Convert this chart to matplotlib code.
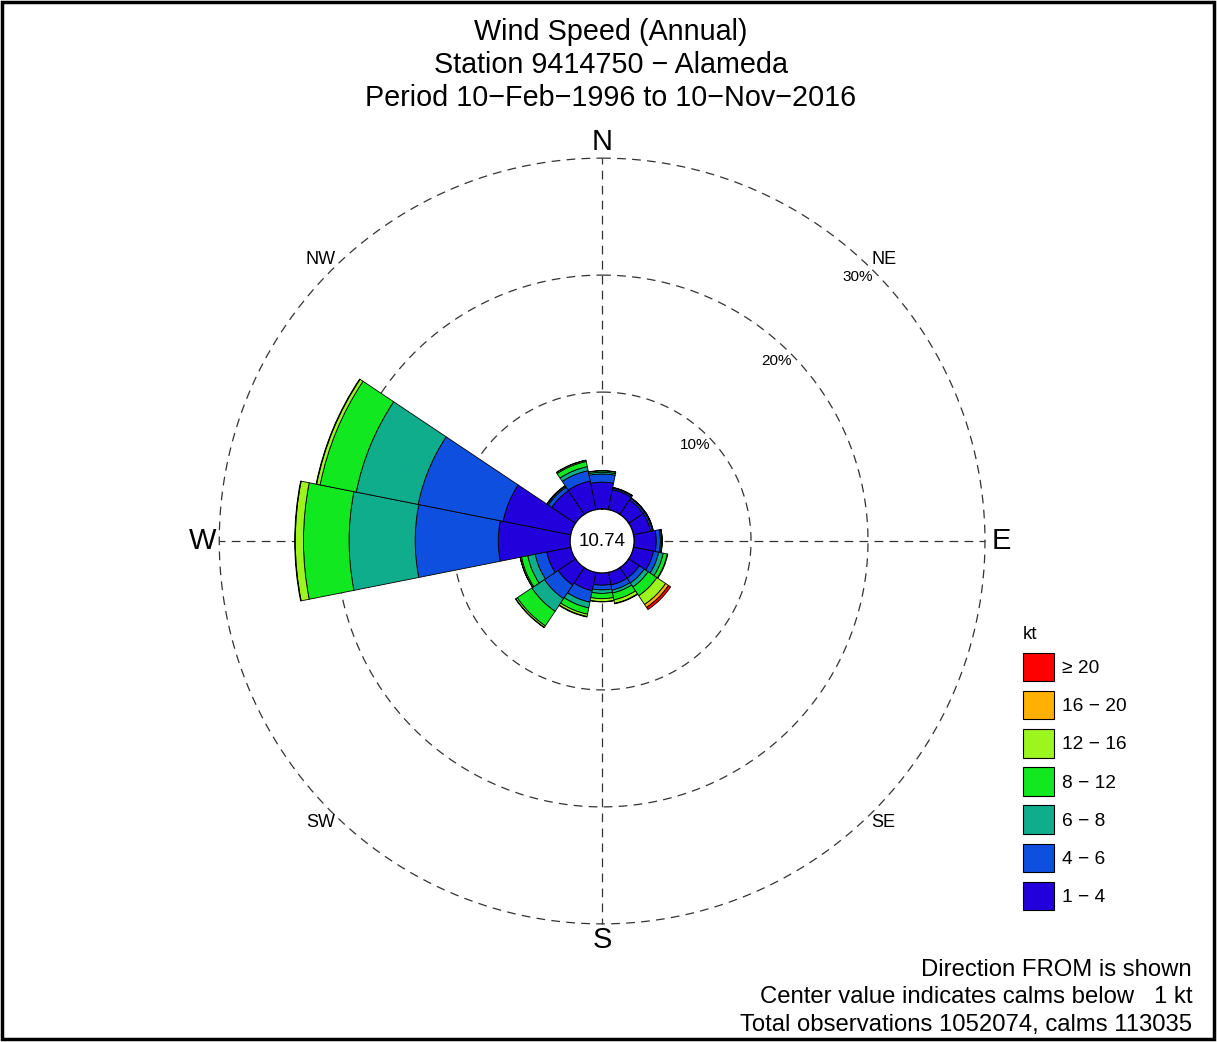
import numpy as np
import matplotlib.pyplot as plt
from matplotlib.patches import Patch, Rectangle

plt.rcParams['font.family'] = ['Liberation Sans', 'DejaVu Sans']

# Direction sectors (FROM), clockwise from north
directions = ['N', 'NNE', 'NE', 'ENE', 'E', 'ESE', 'SE', 'SSE',
              'S', 'SSW', 'SW', 'WSW', 'W', 'WNW', 'NW', 'NNW']

# Percent of all observations, per speed bin (kt), per direction
spd_1_4   = [2.30, 1.75, 1.50, 1.50, 1.90, 1.75, 1.10, 1.10, 1.05, 1.60, 1.80, 2.10, 6.15, 5.90, 2.45, 2.50]
spd_4_6   = [0.70, 0.12, 0.15, 0.15, 0.35, 0.45, 0.50, 0.45, 0.40, 1.00, 1.40, 1.00, 7.10, 7.40, 0.35, 0.90]
spd_6_8   = [0.15, 0.05, 0.05, 0.06, 0.10, 0.40, 0.40, 0.25, 0.30, 0.50, 1.30, 0.65, 5.65, 5.40, 0.10, 0.35]
spd_8_12  = [0.12, 0.03, 0.02, 0.03, 0.05, 0.35, 0.90, 0.60, 0.45, 0.55, 1.50, 0.55, 3.90, 3.15, 0.05, 0.45]
spd_12_16 = [0.02, 0.00, 0.00, 0.00, 0.01, 0.05, 0.90, 0.30, 0.25, 0.20, 0.15, 0.10, 0.70, 0.30, 0.01, 0.10]
spd_16_20 = [0.00, 0.00, 0.00, 0.00, 0.00, 0.00, 0.30, 0.05, 0.03, 0.05, 0.03, 0.02, 0.05, 0.05, 0.00, 0.02]
spd_20_up = [0.00, 0.00, 0.00, 0.00, 0.00, 0.00, 0.22, 0.00, 0.00, 0.00, 0.00, 0.00, 0.00, 0.00, 0.00, 0.00]

bins = [spd_1_4, spd_4_6, spd_6_8, spd_8_12, spd_12_16, spd_16_20, spd_20_up]
bin_labels = ['1 \u2212 4', '4 \u2212 6', '6 \u2212 8', '8 \u2212 12', '12 \u2212 16', '16 \u2212 20', '\u2265 20']
colors = ['#2200dc', '#0f4fe0', '#10ad8c', '#12e820', '#9cf51c', '#ffb000', '#ff0000']

rings = [10, 20, 30]
calm_pct = 10.74
total_obs = 1052074
calm_obs = 113035

fig = plt.figure(figsize=(12.17, 10.42), dpi=100)
ax = fig.add_axes([0.1609, 0.0909, 0.6677, 0.7798], projection='polar')
ax.set_theta_zero_location('N')
ax.set_theta_direction(-1)
ax.set_ylim(0, 32)
ax.set_rorigin(-2.73)
ax.grid(False)
ax.set_xticks([])
ax.set_yticks([])
for s in ax.spines.values():
    s.set_visible(False)

full = np.linspace(0, 2 * np.pi, 721)
dash = (0, (7, 5))
for r in rings:
    ax.plot(full, np.full_like(full, r), ls=dash, color='#333333', lw=0.9, zorder=1)
    ax.text(np.deg2rad(44), r - 1.3, f'{r}%', ha='center', va='center', fontsize=11)
for a in [0, 90, 180, 270]:
    ax.plot([np.deg2rad(a)] * 2, [0, 30], ls=dash, color='#333333', lw=0.9, zorder=1)

# stacked sectors
theta = np.deg2rad(np.arange(16) * 22.5)
width = np.deg2rad(22.5)
bottom = np.zeros(16)
for vals, c in zip(bins, colors):
    vals = np.array(vals)
    m = vals > 0
    ax.bar(theta[m], vals[m], width=width, bottom=bottom[m], color=c,
           edgecolor='black', linewidth=0.6, zorder=3)
    bottom += vals

# calm circle
ax.plot(full, np.zeros_like(full), color='black', lw=1.0, zorder=4)
ax.text(0.5, 0.5, f'{calm_pct:.2f}', transform=ax.transAxes, ha='center', va='center', fontsize=13.5)

# compass labels
for i, name in enumerate(directions):
    if i % 4 == 0:
        ax.text(theta[i], 31.4, name, ha='center', va='center', fontsize=21)
    elif i % 2 == 0:
        ax.text(theta[i], 31.3, name, ha='center', va='center', fontsize=13)

# titles
fig.text(0.502, 1 - 32 / 1042, 'Wind Speed (Annual)', ha='center', va='center', fontsize=20.7)
fig.text(0.502, 1 - 65 / 1042, 'Station 9414750 \u2212 Alameda', ha='center', va='center', fontsize=20.7)
fig.text(0.502, 1 - 98 / 1042, 'Period 10\u2212Feb\u22121996 to 10\u2212Nov\u22122016',
         ha='center', va='center', fontsize=20.7)

# legend
handles = [Patch(facecolor=c, edgecolor='black', lw=0.8) for c in colors[::-1]]
fig.legend(handles, bin_labels[::-1], loc='upper left', bbox_to_anchor=(1023 / 1217, 1 - 626 / 1042),
           frameon=False, title='kt', title_fontsize=13.5, fontsize=13.8, handlelength=1.6,
           handleheight=1.92, labelspacing=0.5, handletextpad=0.45, borderpad=0,
           borderaxespad=0, alignment='left')

# notes
fig.text(0.9795, 1 - 970 / 1042, 'Direction FROM is shown', ha='right', va='center', fontsize=17.2)
fig.text(0.9795, 1 - 997 / 1042, 'Center value indicates calms below   1 kt', ha='right', va='center', fontsize=17.2)
fig.text(0.9795, 1 - 1025 / 1042, f'Total observations {total_obs}, calms {calm_obs}',
         ha='right', va='center', fontsize=17.2)

fig.add_artist(Rectangle((0.0015, 0.003), 0.996, 0.995, transform=fig.transFigure,
                         fill=False, ec='black', lw=2.5))

fig.savefig('out.png', dpi=100)
